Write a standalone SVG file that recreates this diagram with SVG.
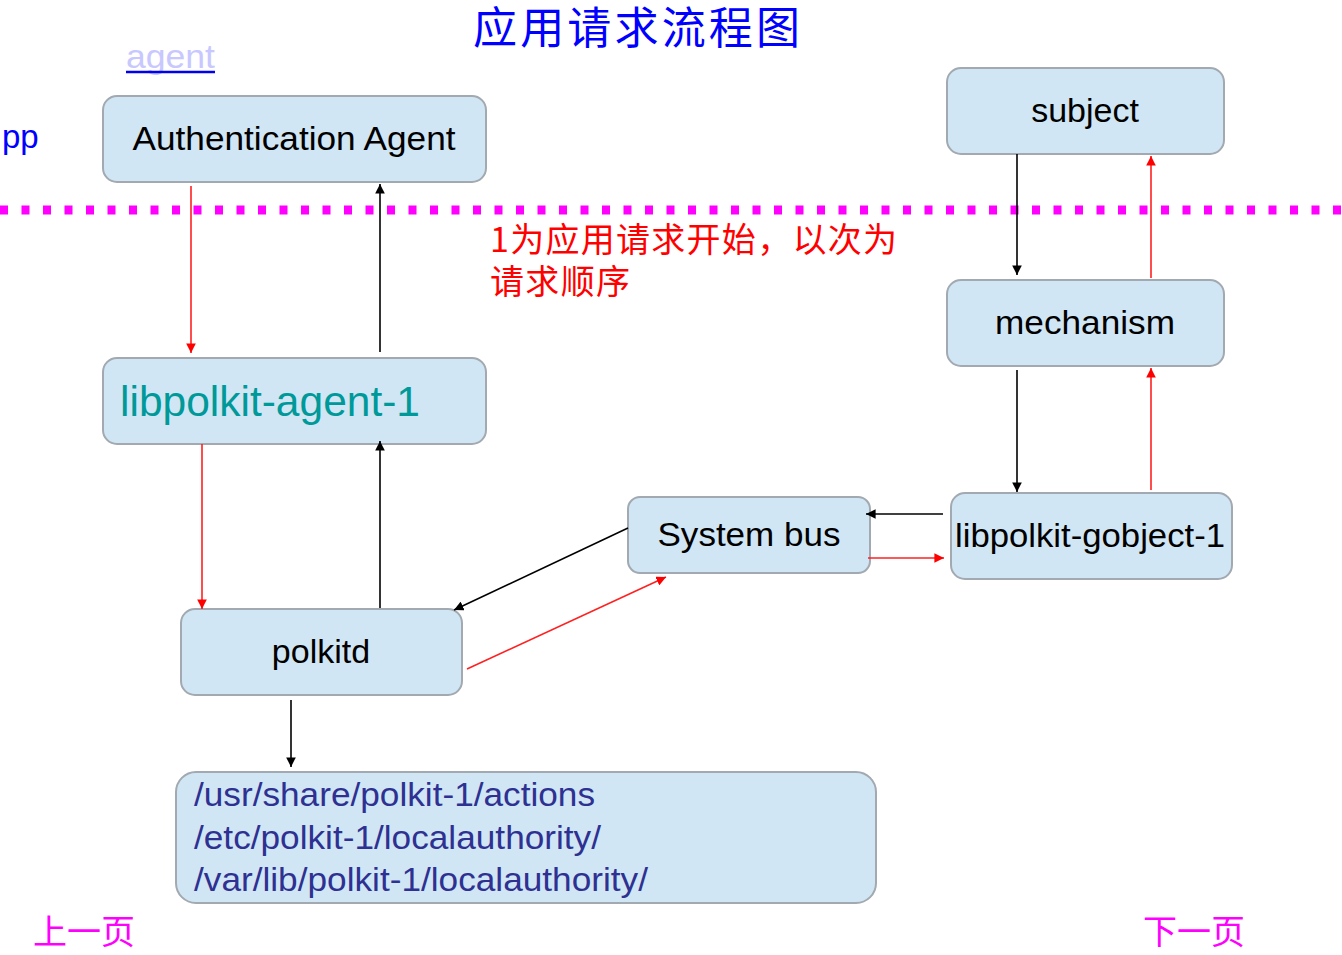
<svg xmlns="http://www.w3.org/2000/svg" width="1342" height="955" viewBox="0 0 1342 955">
<style>
.box{fill:#d0e6f4;stroke:#a2a9b0;stroke-width:2}
.lbl{font-family:"Liberation Sans",Arial,sans-serif;font-size:34px;fill:#000;text-anchor:middle}
.cjk{font-family:"Noto Sans CJK SC",sans-serif}
.blk{stroke:#000;stroke-width:1.6;fill:none;marker-end:url(#ab)}
.red{stroke:#ff2020;stroke-width:1.6;fill:none;marker-end:url(#ar)}
.path{font-family:"Liberation Sans",Arial,sans-serif;font-size:34px;fill:#2e3192}
</style>
<defs>
<marker id="ab" viewBox="0 0 10 10" refX="10" refY="5" markerWidth="6" markerHeight="6" orient="auto" markerUnits="strokeWidth"><path d="M0,0 L10,5 L0,10 z" fill="#000"/></marker>
<marker id="ar" viewBox="0 0 10 10" refX="10" refY="5" markerWidth="6" markerHeight="6" orient="auto" markerUnits="strokeWidth"><path d="M0,0 L10,5 L0,10 z" fill="#ff0000"/></marker>
</defs>
<rect width="1342" height="955" fill="#fff"/>
<text x="473" y="44" class="cjk" font-size="44" fill="#0000ff" textLength="327" lengthAdjust="spacing">应用请求流程图</text>
<text x="126" y="68" font-family="Liberation Sans,Arial,sans-serif" font-size="34" fill="#c8c8ff" textLength="89" lengthAdjust="spacingAndGlyphs">agent</text>
<line x1="126" y1="72" x2="215" y2="72" stroke="#0000ee" stroke-width="2.5"/>
<text x="2" y="148" font-family="Liberation Sans,Arial,sans-serif" font-size="33" fill="#0000ff">pp</text>
<line x1="0" y1="210" x2="1342" y2="210" stroke="#ff00ff" stroke-width="9" stroke-dasharray="8 13.5"/>
<text x="490" y="252" class="cjk" font-size="34" fill="#ff0000" textLength="407" lengthAdjust="spacing">1为应用请求开始，以次为</text>
<text x="490" y="294" class="cjk" font-size="34" fill="#ff0000" textLength="140" lengthAdjust="spacing">请求顺序</text>
<g id="auth"><rect class="box" x="103" y="96" width="383" height="86" rx="14"/><text class="lbl" x="294" y="150" textLength="323" lengthAdjust="spacingAndGlyphs">Authentication Agent</text></g>
<g id="agentlib"><rect class="box" x="103" y="358" width="383" height="86" rx="14"/><text x="120" y="416" font-family="Liberation Sans,Arial,sans-serif" font-size="42" fill="#009999" textLength="300" lengthAdjust="spacingAndGlyphs">libpolkit-agent-1</text></g>
<g id="polkitd"><rect class="box" x="181" y="609" width="281" height="86" rx="14"/><text class="lbl" x="321" y="663">polkitd</text></g>
<g id="paths"><rect class="box" x="176" y="772" width="700" height="131" rx="20"/>
<text class="path" x="194" y="806" textLength="401" lengthAdjust="spacingAndGlyphs">/usr/share/polkit-1/actions</text>
<text class="path" x="194" y="849" textLength="407" lengthAdjust="spacingAndGlyphs">/etc/polkit-1/localauthority/</text>
<text class="path" x="194" y="891" textLength="454" lengthAdjust="spacingAndGlyphs">/var/lib/polkit-1/localauthority/</text></g>
<g id="sysbus"><rect class="box" x="628" y="497" width="242" height="76" rx="12"/><text class="lbl" x="749" y="546" textLength="183" lengthAdjust="spacingAndGlyphs">System bus</text></g>
<g id="gobject"><rect class="box" x="951" y="493" width="281" height="86" rx="14"/><text class="lbl" x="1090" y="547" textLength="270" lengthAdjust="spacingAndGlyphs">libpolkit-gobject-1</text></g>
<g id="subject"><rect class="box" x="947" y="68" width="277" height="86" rx="14"/><text class="lbl" x="1085" y="122">subject</text></g>
<g id="mechanism"><rect class="box" x="947" y="280" width="277" height="86" rx="14"/><text class="lbl" x="1085" y="334" textLength="180" lengthAdjust="spacingAndGlyphs">mechanism</text></g>
<g id="connectors">
<line class="red" x1="191" y1="186" x2="191" y2="353"/>
<line class="blk" x1="380" y1="352" x2="380" y2="184"/>
<line class="red" x1="202" y1="444" x2="202" y2="609"/>
<line class="blk" x1="380" y1="608" x2="380" y2="441"/>
<line class="blk" x1="628" y1="528" x2="454" y2="610"/>
<line class="red" x1="467" y1="669" x2="666" y2="577"/>
<line class="blk" x1="943" y1="514" x2="866" y2="514"/>
<line class="red" x1="868" y1="558" x2="944" y2="558"/>
<line class="blk" x1="1017" y1="154" x2="1017" y2="275"/>
<line class="red" x1="1151" y1="278" x2="1151" y2="156"/>
<line class="blk" x1="1017" y1="370" x2="1017" y2="492"/>
<line class="red" x1="1151" y1="490" x2="1151" y2="368"/>
<line class="blk" x1="291" y1="700" x2="291" y2="767"/>
</g>
<text x="33" y="944" class="cjk" font-size="34" fill="#ff00ff">上一页</text>
<text x="1143" y="944" class="cjk" font-size="34" fill="#ff00ff">下一页</text>
</svg>
